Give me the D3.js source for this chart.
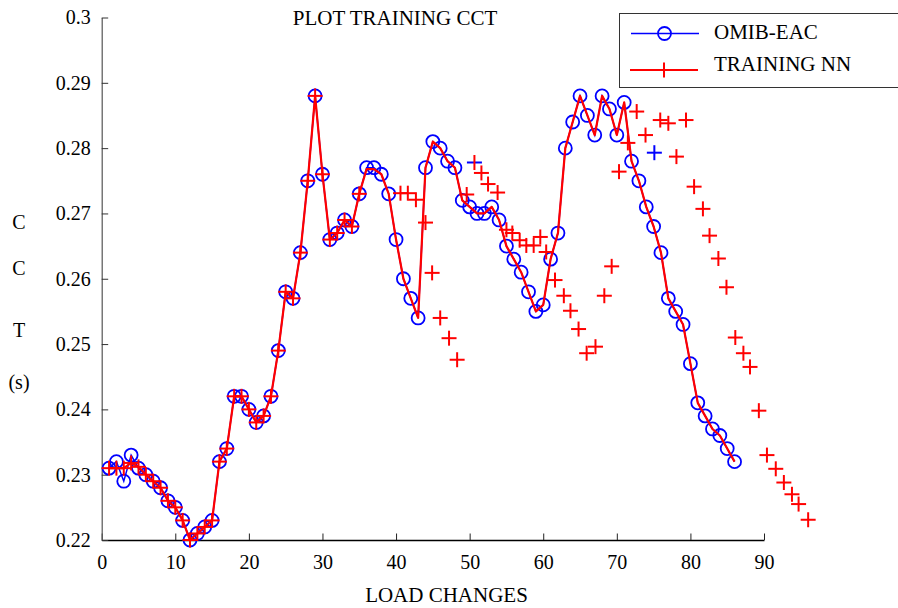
<!DOCTYPE html>
<html>
<head>
<meta charset="utf-8">
<script src="https://cdn.jsdelivr.net/npm/d3@7"></script>
<style>
  body { margin: 0; background: #fff; }
  text { font-family: "Liberation Serif", "Times New Roman", serif; fill: #000; }
</style>
</head>
<body>
<div id="chart"></div>
<script>
// OMIB-EAC values, load change 1..86
var omibX = d3.range(1, 87)
var omibY = [
  0.231, 0.232, 0.229, 0.233, 0.231, 0.230, 0.229, 0.228, 0.226, 0.225,
  0.223, 0.220, 0.221, 0.222, 0.223, 0.232, 0.234, 0.242, 0.242, 0.240,
  0.238, 0.239, 0.242, 0.249, 0.258, 0.257, 0.264, 0.275, 0.288, 0.276,
  0.266, 0.267, 0.269, 0.268, 0.273, 0.277, 0.277, 0.276, 0.273, 0.266,
  0.260, 0.257, 0.254, 0.277, 0.281, 0.280, 0.278, 0.277, 0.272, 0.271,
  0.270, 0.270, 0.271, 0.269, 0.265, 0.263, 0.261, 0.258, 0.255, 0.256,
  0.263, 0.267, 0.280, 0.284, 0.288, 0.285, 0.282, 0.288, 0.286, 0.282,
  0.287, 0.278, 0.275, 0.271, 0.268, 0.264, 0.257, 0.255, 0.253, 0.247,
  0.241, 0.239, 0.237, 0.236, 0.234, 0.232
]

// TRAINING NN line
var nnY = [
  0.231, 0.231, 0.231, 0.2318, 0.2312, 0.230, 0.229, 0.228, 0.226, 0.225,
  0.223, 0.220, 0.221, 0.222, 0.223, 0.232, 0.234, 0.242, 0.242, 0.240,
  0.238, 0.239, 0.242, 0.249, 0.258, 0.257, 0.264, 0.275, 0.288, 0.276,
  0.266, 0.267, 0.269, 0.268, 0.273, 0.2768, 0.2768, 0.276, 0.273, 0.266,
  0.260, 0.257, 0.254, 0.277, 0.281, 0.280, 0.278, 0.277, 0.272, 0.271,
  0.270, 0.270, 0.271, 0.269, 0.265, 0.263, 0.261, 0.258, 0.255, 0.256,
  0.263, 0.267, 0.280, 0.284, 0.288, 0.285, 0.282, 0.288, 0.286, 0.282,
  0.287, 0.278, 0.275, 0.271, 0.268, 0.264, 0.257, 0.255, 0.253, 0.247,
  0.241, 0.239, 0.237, 0.236, 0.234, 0.232
]
// + markers sitting on the line (points 1..35)
var nnOnLine = 35

// scattered TRAINING NN markers
var nnExtraX = [40.6, 41.6, 42.7, 44.0, 44.9, 46.0, 47.2, 48.3, 49.6, 51.6,
  52.5, 53.8, 55.0, 55.8, 56.8, 57.7, 58.7, 59.6, 60.4, 61.6,
  62.8, 63.7, 64.8, 65.9, 67.1, 68.3, 69.3, 70.3, 71.5, 72.7,
  73.9, 75.9, 77.0, 78.1, 79.4, 80.5, 81.7, 82.6, 83.8, 84.9,
  86.1, 87.2, 88.1, 89.3, 90.4, 91.6, 92.7, 93.8, 94.7, 96.0]
var nnExtraY = [0.2731, 0.2731, 0.2721, 0.2686, 0.2609, 0.2540, 0.2509, 0.2476, 0.2729, 0.2762,
  0.2745, 0.2732, 0.2675, 0.2670, 0.2659, 0.2651, 0.2651, 0.2664, 0.2641, 0.2598,
  0.2574, 0.2551, 0.2523, 0.2486, 0.2496, 0.2574, 0.2619, 0.2764, 0.2808, 0.2856,
  0.2820, 0.2843, 0.2838, 0.2787, 0.2843, 0.2741, 0.2707, 0.2666, 0.2631, 0.2587,
  0.2510, 0.2486, 0.2465, 0.2398, 0.2330, 0.2309, 0.2288, 0.2270, 0.2255, 0.2231]

// the two crosses that show blue strokes
var oddX = [50.65, 75.1]
var oddY = [0.2778, 0.2793]

var xTicks = d3.range(0, 100, 10)
var yTicks = [0.22, 0.23, 0.24, 0.25, 0.26, 0.27, 0.28, 0.29, 0.3]

var width = 898, height = 608

var svg = d3.select("#chart")
  .append("svg")
  .attr("width", width)
  .attr("height", height)

var x = d3.scaleLinear().domain([0, 90]).range([101.7, 764])
var y = d3.scaleLinear().domain([0.22, 0.3]).range([540, 17.5])

// axes, MATLAB style: ticks inside, no box
var xAxis = d3.axisBottom(x).tickValues(xTicks).tickSizeInner(-6.5).tickSizeOuter(0).tickPadding(14)
var gx = svg.append("g")
  .attr("transform", "translate(0," + y(0.22) + ")")
  .call(xAxis)
gx.select(".domain").attr("stroke", "#000").attr("stroke-width", 1.3)
gx.selectAll(".tick line").attr("stroke", "#222")
gx.selectAll(".tick text")
  .attr("font-family", "Liberation Serif")
  .attr("font-size", 20)
  .attr("dy", "0.75em")

var yAxis = d3.axisLeft(y).tickValues(yTicks).tickSizeInner(-6.5).tickSizeOuter(0).tickPadding(11)
  .tickFormat(function(d) { return d3.format("")(+d.toFixed(2)) })
var gy = svg.append("g")
  .attr("transform", "translate(" + x(0) + ",0)")
  .call(yAxis)
gy.select(".domain").attr("stroke", "#555").attr("stroke-width", 1.2)
gy.selectAll(".tick line").attr("stroke", "#333")
gy.selectAll(".tick text")
  .attr("font-family", "Liberation Serif")
  .attr("font-size", 20)

// title and labels
svg.append("text")
  .attr("x", 395).attr("y", 25)
  .attr("text-anchor", "middle")
  .attr("font-size", 21)
  .text("PLOT TRAINING CCT")

svg.append("text")
  .attr("x", 446.5).attr("y", 601.5)
  .attr("text-anchor", "middle")
  .attr("font-size", 21)
  .text("LOAD CHANGES")

var yLab = ["C", "C", "T", "(s)"]
var yLabPos = [228.5, 275, 337, 389]
svg.selectAll(".ylab")
  .data(yLab)
  .enter()
  .append("text")
  .attr("class", "ylab")
  .attr("x", 19)
  .attr("y", function(d, i) { return yLabPos[i] })
  .attr("text-anchor", "middle")
  .attr("font-size", 20)
  .text(function(d) { return d })

// series
var omib = omibX.map(function(d, i) { return [d, omibY[i]] })
var nn = omibX.map(function(d, i) { return [d, nnY[i]] })
var line = d3.line()
  .x(function(d) { return x(d[0]) })
  .y(function(d) { return y(d[1]) })

svg.append("path")
  .datum(omib)
  .attr("fill", "none")
  .attr("stroke", "#0000ff")
  .attr("stroke-width", 1.5)
  .attr("d", line)

svg.selectAll(".omib")
  .data(omib)
  .enter()
  .append("circle")
  .attr("class", "omib")
  .attr("cx", function(d) { return x(d[0]) })
  .attr("cy", function(d) { return y(d[1]) })
  .attr("r", 6.5)
  .attr("fill", "none")
  .attr("stroke", "#0000ff")
  .attr("stroke-width", 1.8)

svg.append("path")
  .datum(nn)
  .attr("fill", "none")
  .attr("stroke", "#ff0000")
  .attr("stroke-width", 2.2)
  .attr("stroke-linejoin", "round")
  .attr("d", line)

function plus(g, px, py, col, colH) {
  g.append("line")
    .attr("x1", px - 7.5).attr("x2", px + 7.5)
    .attr("y1", py).attr("y2", py)
    .attr("stroke", colH || col).attr("stroke-width", 2)
  g.append("line")
    .attr("x1", px).attr("x2", px)
    .attr("y1", py - 7.5).attr("y2", py + 7.5)
    .attr("stroke", col).attr("stroke-width", 2)
}

var marks = svg.append("g")
nn.slice(0, nnOnLine).forEach(function(d) {
  plus(marks, x(d[0]), y(d[1]), "#ff0000")
})
nnExtraX.forEach(function(d, i) {
  plus(marks, x(d), y(nnExtraY[i]), "#ff0000")
})
oddX.forEach(function(d, i) {
  plus(marks, x(d), y(oddY[i]), i == 0 ? "#ff0000" : "#0000ff", "#0000ff")
})

// legend
var lg = svg.append("g")
lg.append("rect")
  .attr("x", 619.5).attr("y", 13.5)
  .attr("width", 300).attr("height", 74)
  .attr("fill", "#fff")
  .attr("stroke", "#333")
  .attr("stroke-width", 1)

lg.append("line")
  .attr("x1", 631).attr("x2", 699).attr("y1", 33.5).attr("y2", 33.5)
  .attr("stroke", "#0000ff").attr("stroke-width", 1.5)
lg.append("circle")
  .attr("cx", 664.5).attr("cy", 33.5).attr("r", 6.5)
  .attr("fill", "none").attr("stroke", "#0000ff").attr("stroke-width", 1.8)
lg.append("text")
  .attr("x", 714).attr("y", 38.5)
  .attr("font-size", 21)
  .text("OMIB-EAC")

lg.append("line")
  .attr("x1", 630).attr("x2", 698).attr("y1", 70).attr("y2", 70)
  .attr("stroke", "#ff0000").attr("stroke-width", 2.2)
plus(lg, 664, 70, "#ff0000")
lg.append("text")
  .attr("x", 714).attr("y", 71)
  .attr("font-size", 21)
  .text("TRAINING NN")
</script>
</body>
</html>
